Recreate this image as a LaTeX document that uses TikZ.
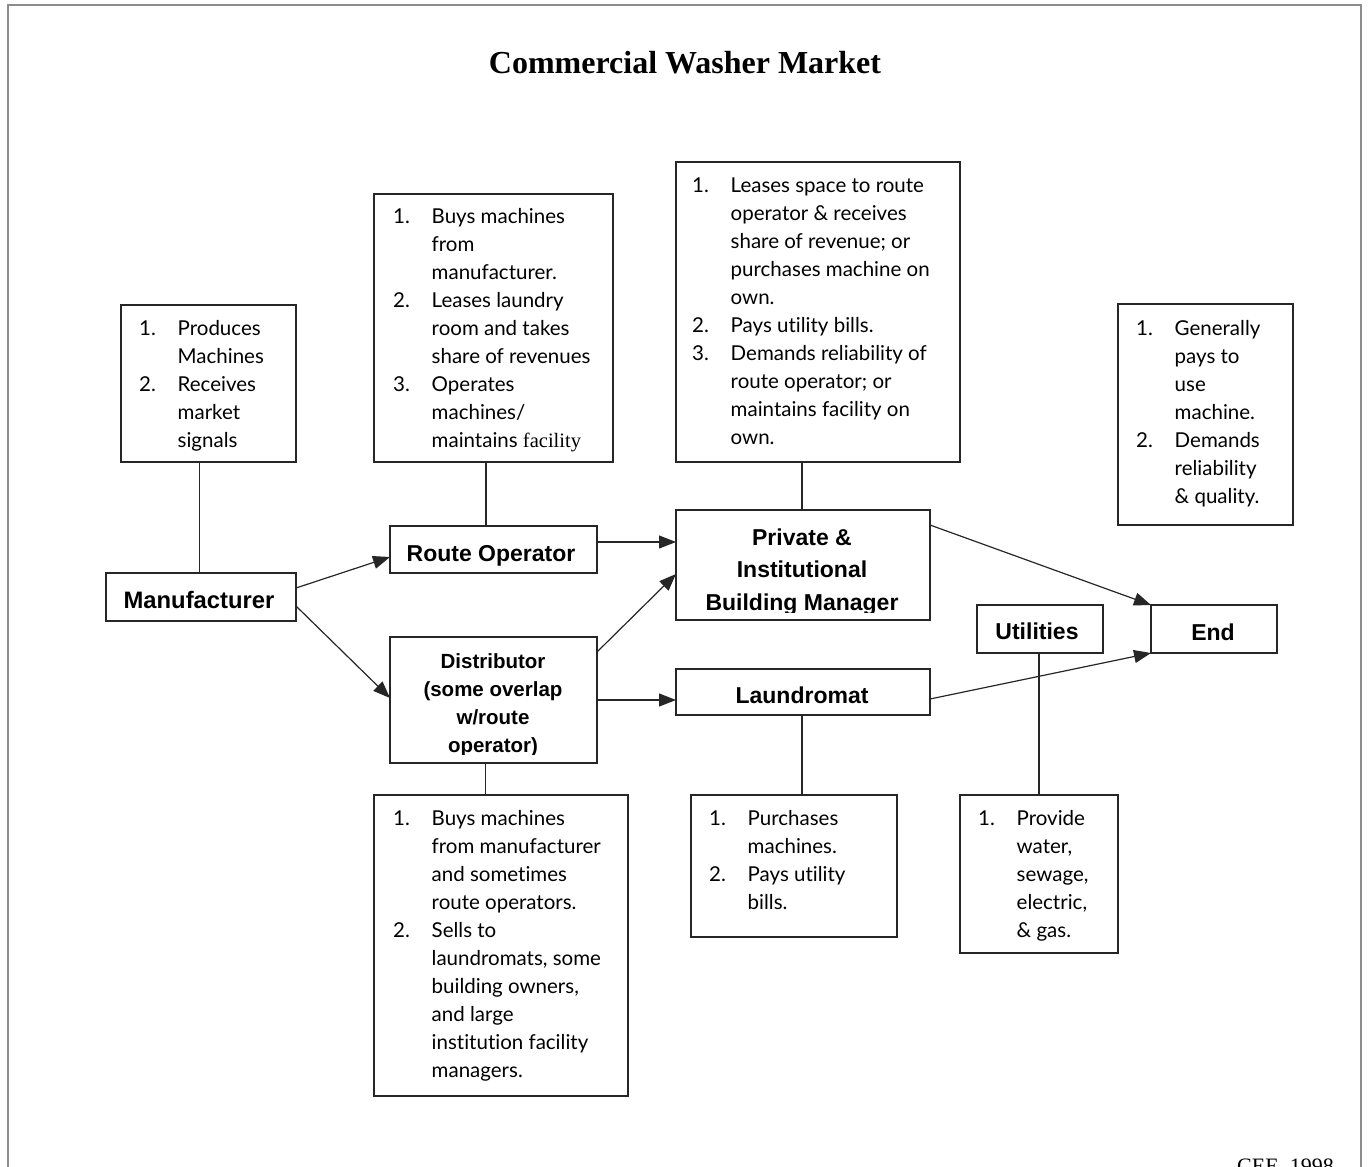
\documentclass[tikz,border=0pt]{standalone}
\usepackage{fontspec}
\setmainfont{Liberation Serif}
\newfontfamily\listfont[Ligatures=NoCommon]{Lato}
\newfontfamily\labelfont{Liberation Sans}
\usetikzlibrary{arrows.meta}

% box given by its pixel corners: name, x1, y1, x2, y2
\newcommand\cornerbox[5]{%
  \node[box, minimum width={(#4)-(#2)}, minimum height={(#5)-(#3)}]
    (#1) at ({((#2)+(#4))/2},{((#3)+(#5))/2}) {};}
% numbered list, number column then text column
\newcommand\numlist[1]{\begin{tabular}[t]{@{}p{38.5pt}@{}l@{}}#1\end{tabular}}
\newcommand\centerlines[1]{\begin{tabular}[t]{@{}c@{}}#1\end{tabular}}

\tikzset{
  frame/.style={draw=black!45, line width=2pt},
  box/.style={draw=black!85, line width=1.2pt, rectangle, inner sep=0pt, outer sep=0pt},
  link/.style={draw=black!85, line width=1.2pt},
  flow/.style={link, -{Triangle[length=17pt,width=13pt]}},
  items/.style={anchor=base west, inner sep=0pt, font=\listfont\fontsize{20.5}{28}\selectfont},
  lbl/.style={anchor=base, inner sep=0pt, font=\labelfont\bfseries\fontsize{23}{32.5}\selectfont},
  smalllbl/.style={anchor=base, inner sep=0pt, font=\labelfont\bfseries\fontsize{20.5}{28.3}\selectfont},
}

\begin{document}
\begin{tikzpicture}[x=1pt,y=-1pt]
\useasboundingbox (0,0) rectangle (1369,1167);

% page frame and credit line, cut by the page edge
\begin{scope}
  \clip (0,0) rectangle (1369,1167);
  \draw[frame] (8.2,5.2) rectangle (1361,1200);
  \node[anchor=base west, inner sep=0pt, font=\rmfamily\fontsize{22}{26}\selectfont]
    (credit) at (1237,1173) {CEE, 1998};
\end{scope}

\node[anchor=base, inner sep=0pt, font=\rmfamily\bfseries\fontsize{32}{38}\selectfont]
  (title) at (685,73) {Commercial Washer Market};

% market players
\cornerbox{mfr}{106}{573}{296}{621}
\cornerbox{route}{390}{526}{597}{573}
\cornerbox{dist}{390}{637}{597}{763}
\cornerbox{priv}{676}{510}{930}{620}
\cornerbox{laund}{676}{669}{930}{715}
\cornerbox{util}{977}{605}{1103}{653}
\cornerbox{endb}{1151}{605}{1277}{653}

\node[lbl] (t-mfr) at (199,608) {\fontsize{23.8}{32.5}\selectfont Manufacturer};
\node[lbl] (t-route) at (491,561) {Route Operator};
\node[lbl] (t-laund) at (802,703) {Laundromat};
\node[lbl] (t-util) at (1037,639) {Utilities};
\node[lbl] (t-end) at (1213,640) {End};
\begin{scope}
  \clip (priv.north west) rectangle ([yshift=8pt]priv.south east);
  \node[lbl] (t-priv) at (802,545) {\centerlines{Private \&\\Institutional\\Building Manager}};
\end{scope}
\begin{scope}
  \clip (dist.north west) rectangle ([yshift=8.5pt]dist.south east);
  \node[smalllbl] (t-dist) at (493,668) {\centerlines{Distributor\\(some overlap\\w/route\\operator)}};
\end{scope}

% role descriptions
\cornerbox{mfri}{121}{305}{296}{462}
\cornerbox{routei}{374}{194}{613}{462}
\cornerbox{privi}{676}{162}{960}{462}
\cornerbox{endi}{1118}{304}{1293}{525}
\cornerbox{disti}{374}{795}{628}{1096}
\cornerbox{laundi}{691}{795}{897}{937}
\cornerbox{utili}{960}{795}{1118}{953}

\node[items] (l-mfr) at (139,335) {\numlist{%
  1. & Produces\\ & Machines\\ 2. & Receives\\ & market\\ & signals}};
\node[items] (l-route) at (393,223) {\numlist{%
  1. & Buys machines\\ & from\\ & manufacturer.\\
  2. & Leases laundry\\ & room and takes\\ & share of revenues\\
  3. & Operates\\ & machines/\\ & maintains {\rmfamily facility}}};
\node[items] (l-priv) at (692,192) {\numlist{%
  1. & Leases space to route\\ & operator \& receives\\ & share of revenue; or\\
     & purchases machine on\\ & own.\\
  2. & Pays utility bills.\\
  3. & Demands reliability of\\ & route operator; or\\ & maintains facility on\\ & own.}};
\node[items] (l-end) at (1136,335) {\numlist{%
  1. & Generally\\ & pays to\\ & use\\ & machine.\\
  2. & Demands\\ & reliability\\ & \& quality.}};
\node[items] (l-dist) at (393,825) {\numlist{%
  1. & Buys machines\\ & from manufacturer\\ & and sometimes\\ & route operators.\\
  2. & Sells to\\ & laundromats, some\\ & building owners,\\ & and large\\
     & institution facility\\ & managers.}};
\node[items] (l-laund) at (709,825) {\numlist{%
  1. & Purchases\\ & machines.\\ 2. & Pays utility\\ & bills.}};
\node[items] (l-util) at (978,825) {\numlist{%
  1. & Provide\\ & water,\\ & sewage,\\ & electric,\\ & \& gas.}};

% ties between each player and its description
\draw[link] ([xshift=-1.5pt]mfr.north) -- ([xshift=-1.5pt]mfr.north |- mfri.south);
\draw[link] ([xshift=-7.5pt]route.north) -- ([xshift=-7.5pt]route.north |- routei.south);
\draw[link] ([xshift=-1pt]priv.north) -- ([xshift=-1pt]priv.north |- privi.south);
\draw[link] ([xshift=-8pt]dist.south) -- ([xshift=-8pt]dist.south |- disti.north);
\draw[link] ([xshift=-1pt]laund.south) -- ([xshift=-1pt]laund.south |- laundi.north);
\draw[link] ([xshift=-1pt]util.south) -- ([xshift=-1pt]util.south |- utili.north);

% flow of machines through the market
\draw[flow] ([yshift=9pt]mfr.east) -- ([yshift=-7.5pt]route.west);
\draw[flow] ([yshift=-9pt]mfr.east) -- ([yshift=2pt]dist.west);
\draw[flow] ([yshift=7.5pt]route.east) -- ([yshift=7.5pt]route.east -| priv.west);
\draw[flow] ([yshift=48pt]dist.east) -- ([yshift=-9pt]priv.west);
\draw[flow] (dist.east) -- (dist.east -| laund.west);
\draw[flow] ([yshift=40pt]priv.east) -- (endb.north west);
\draw[flow] ([yshift=-7pt]laund.east) -- (endb.south west);
\end{tikzpicture}
\end{document}
